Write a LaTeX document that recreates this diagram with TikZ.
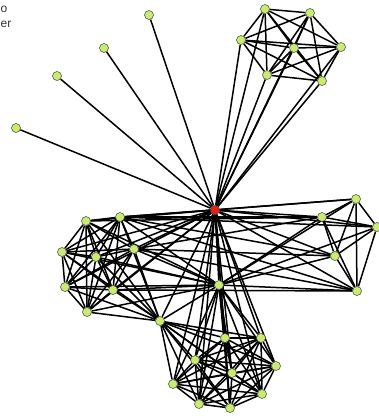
\documentclass[tikz,border=0pt]{standalone}
\usepackage{fontspec}
\setmainfont{Liberation Sans}
\usetikzlibrary{positioning, backgrounds}

\definecolor{altergreen}{RGB}{200,236,110}
\definecolor{egored}{RGB}{240,30,10}

\begin{document}
\begin{tikzpicture}[x=1pt, y=-1pt,
    alter/.style={circle, draw=black!75, fill=altergreen, minimum size=9pt, inner sep=0pt, line width=0.5pt},
    ego/.style={alter, fill=egored},
    tie/.style={line width=1.5pt, black},
    legend/.style={font=\fontsize{12}{14}\selectfont, text=black!80, anchor=west, inner sep=0pt}
  ]

    \useasboundingbox (0,0) rectangle (379,416);

    % Legend (cut off)
    \node[legend] (lgo) at (0.5,9) {o};
    \node[legend] (lger) at (0.5,24) {er};

    % Ego
    \node[ego] (hub) at (215,210) {};
    \node[alter] (mid) at (219,285) {};

    % Pendants
    \node[alter] (p1) at (16,128) {};
    \node[alter] (p2) at (57,76) {};
    \node[alter] (p3) at (104,48) {};
    \node[alter] (p4) at (149,15) {};

    % Top cluster
    \node[alter] (t1) at (265,9) {};
    \node[alter] (t2) at (310,13) {};
    \node[alter] (t3) at (241,40) {};
    \node[alter] (t4) at (294,48) {};
    \node[alter] (t5) at (341,47) {};
    \node[alter] (t6) at (267,75) {};
    \node[alter] (t7) at (322,81) {};

    % Left cluster
    \node[alter] (l1) at (86,221) {};
    \node[alter] (l2) at (120,217) {};
    \node[alter] (l3) at (62,252) {};
    \node[alter] (l4) at (96,257) {};
    \node[alter] (l5) at (134,249) {};
    \node[alter] (l6) at (65,287) {};
    \node[alter] (l7) at (113,290) {};
    \node[alter] (l8) at (87,312) {};

    % Right cluster
    \node[alter] (r1) at (356,199) {};
    \node[alter] (r2) at (322,217) {};
    \node[alter] (r3) at (377,227) {};
    \node[alter] (r4) at (335,256) {};
    \node[alter] (r5) at (357,291) {};

    % Bottom cluster
    \node[alter] (b1) at (160,321) {};
    \node[alter] (b2) at (225,338) {};
    \node[alter] (b3) at (261,338) {};
    \node[alter] (b4) at (195,360) {};
    \node[alter] (b5) at (276,366) {};
    \node[alter] (b6) at (232,373) {};
    \node[alter] (b7) at (173,384) {};
    \node[alter] (b8) at (262,394) {};
    \node[alter] (b9) at (199,404) {};
    \node[alter] (b10) at (230,408) {};

    % Ties
    \begin{scope}[on background layer]
      \draw[tie] (hub) -- (mid);
      \foreach \n in {p1,p2,p3,p4,t1,t2,t3,t4,t5,t6,t7,l1,l2,l3,l4,l5,l6,l7,l8,r1,r2,r3,r4,r5,b1,b2,b3,b4,b5,b6,b7,b8,b9,b10}
        \draw[tie] (hub) -- (\n);
      \foreach \n in {l1,l2,l3,l4,l5,l6,l7,l8,r1,r2,r3,r4,r5,b1,b2,b3,b4,b5,b6,b7,b8,b9,b10}
        \draw[tie] (mid) -- (\n);

      % cliques
      \foreach \i in {1,...,7}{\foreach \j in {1,...,7}{\ifnum\i<\j \draw[tie] (t\i) -- (t\j);\fi}}
      \foreach \i in {1,...,8}{\foreach \j in {1,...,8}{\ifnum\i<\j \draw[tie] (l\i) -- (l\j);\fi}}
      \foreach \i in {1,...,5}{\foreach \j in {1,...,5}{\ifnum\i<\j \draw[tie] (r\i) -- (r\j);\fi}}
      \foreach \i in {1,...,10}{\foreach \j in {1,...,10}{\ifnum\i<\j \draw[tie] (b\i) -- (b\j);\fi}}

      % between clusters
      \foreach \n in {l1,l2,l3,l4,l5,l6,l7,l8}
        \draw[tie] (b1) -- (\n);
      \foreach \n in {r1,r2,r3,r4,r5}
        \draw[tie] (l2) -- (\n);
      \foreach \n in {r2,r4,r5}
        \draw[tie] (l5) -- (\n);
      \draw[tie] (l1) -- (r2);
      \draw[tie] (l7) -- (r5);
    \end{scope}

  \end{tikzpicture}
\end{document}
